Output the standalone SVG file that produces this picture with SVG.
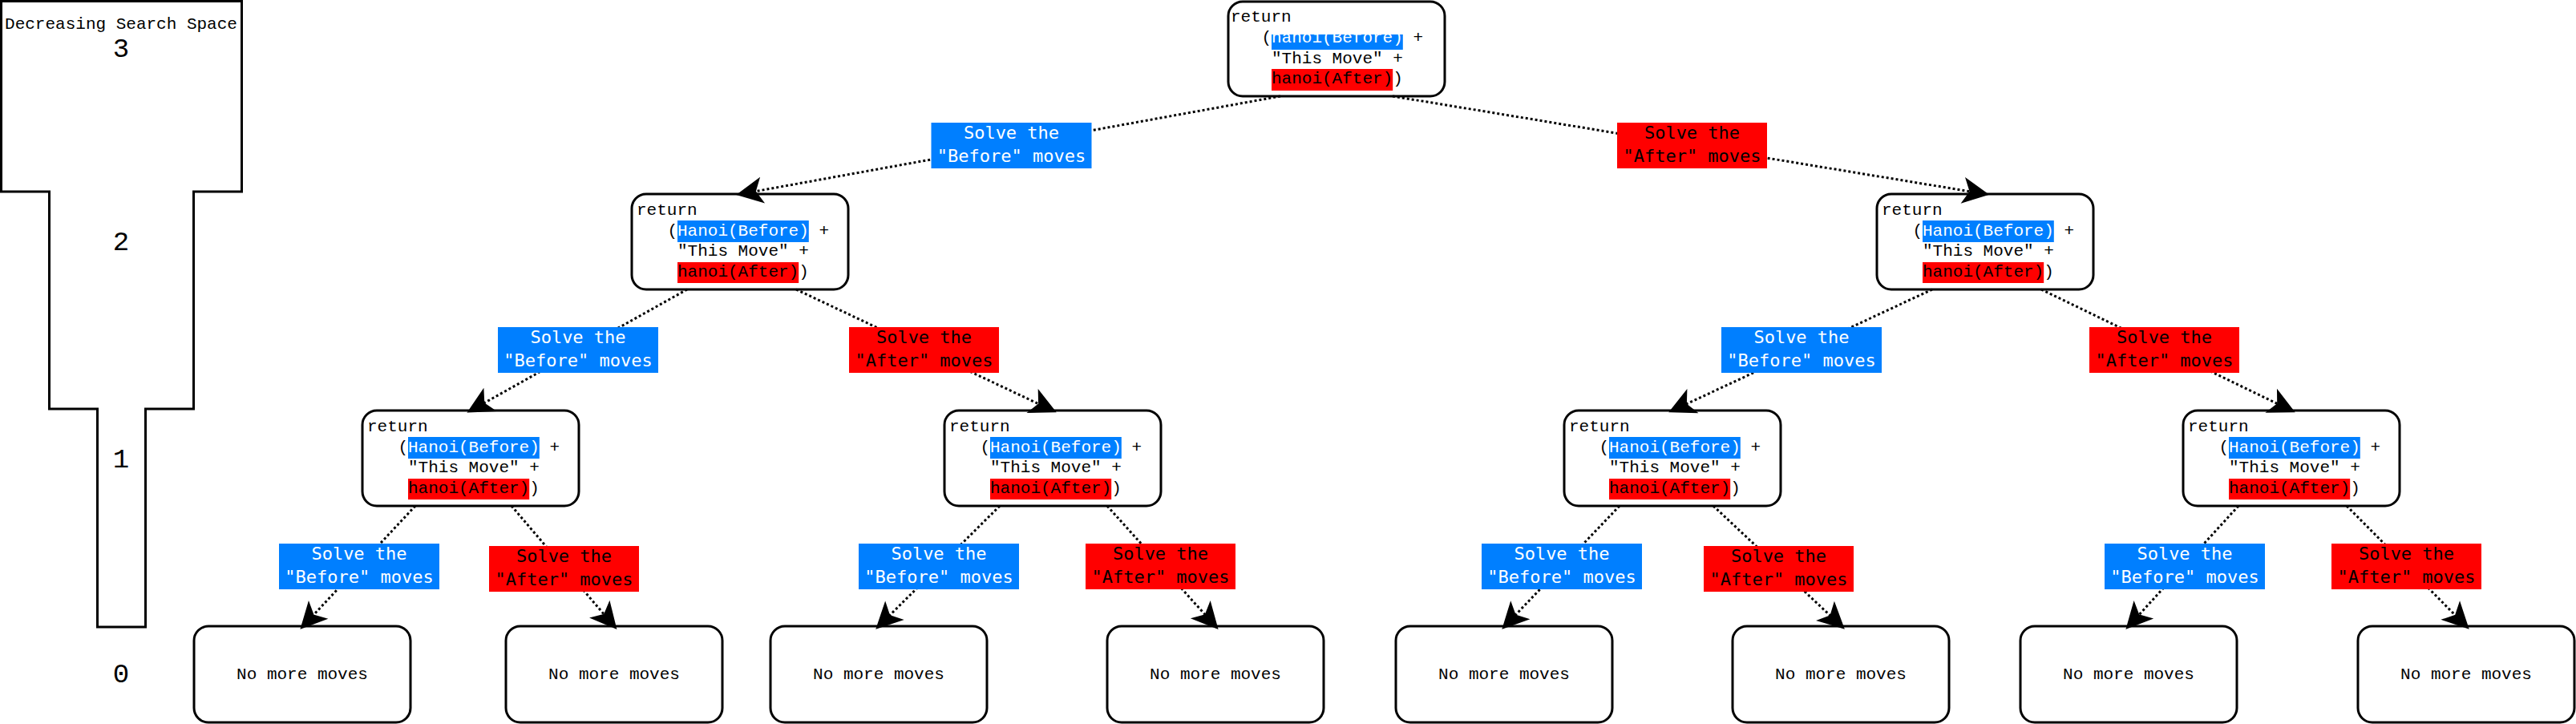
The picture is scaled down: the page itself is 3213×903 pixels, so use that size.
<svg xmlns="http://www.w3.org/2000/svg" width="3213" height="903" viewBox="0 0 3213 903">
<style>
text{font-family:"Liberation Mono","DejaVu Sans Mono",monospace;fill:#000}
.node{fill:#fff;stroke:#000;stroke-width:3}
.nt{font-size:21px}
.lt{font-size:22px;text-anchor:middle;font-family:"DejaVu Sans Mono","Liberation Mono",monospace}
.w{fill:#fff}
.blue{fill:#007FFF}
.red{fill:#FF0000}
.edge{fill:none;stroke:#000;stroke-width:3;stroke-dasharray:3 3;marker-end:url(#arr)}
.leaf{font-size:21px;text-anchor:middle}
.dig{font-size:34px;text-anchor:middle}
</style>
<defs>
<marker id="arr" markerUnits="userSpaceOnUse" markerWidth="40" markerHeight="40" viewBox="-10 -16 34 32" refX="0" refY="0" orient="auto" overflow="visible">
<path d="M18.75,0 L-6.25,-12.5 L0,0 L-6.25,12.5 Z" fill="#000" stroke="#000" stroke-width="1.5" stroke-linejoin="miter"/>
</marker>
</defs>
<rect width="3213" height="903" fill="#fff"/>

<g id="funnel">
<path d="M1.5,1.5 H301.5 V239 H241.5 V510 H181.5 V782 H121.5 V510 H61.5 V239 H1.5 Z" fill="#fff" stroke="#000" stroke-width="3"/>
<text x="151" y="36" font-size="21" text-anchor="middle">Decreasing Search Space</text>
<text class="dig" x="151" y="71">3</text>
<text class="dig" x="151" y="312">2</text>
<text class="dig" x="151" y="583">1</text>
<text class="dig" x="151" y="851">0</text>
</g>

<g id="n_top">
<rect class="node" x="1532" y="2" width="270" height="118" rx="18"/>
<rect class="blue" x="1586" y="43" width="163.8" height="19"/>
<rect class="red" x="1586" y="86" width="151.2" height="27"/>
<text class="nt" x="1535" y="27">return</text>
<text class="nt" x="1573.4" y="53">(<tspan class="w">hanoi(Before)</tspan> +</text>
<text class="nt" x="1586" y="79">"This Move" +</text>
<text class="nt" x="1586" y="104">hanoi(After))</text>
</g>

<g id="n_l1a">
<rect class="node" x="788" y="242" width="270" height="119" rx="18"/>
<rect class="blue" x="845" y="275" width="163.8" height="27"/>
<rect class="red" x="845" y="327" width="151.2" height="26"/>
<text class="nt" x="794" y="268">return</text>
<text class="nt" x="832.4" y="294">(<tspan class="w">Hanoi(Before)</tspan> +</text>
<text class="nt" x="845" y="319">"This Move" +</text>
<text class="nt" x="845" y="345">hanoi(After))</text>
</g>

<g id="n_l1b">
<rect class="node" x="2341" y="242" width="270" height="119" rx="18"/>
<rect class="blue" x="2398" y="275" width="163.8" height="27"/>
<rect class="red" x="2398" y="327" width="151.2" height="26"/>
<text class="nt" x="2347" y="268">return</text>
<text class="nt" x="2385.4" y="294">(<tspan class="w">Hanoi(Before)</tspan> +</text>
<text class="nt" x="2398" y="319">"This Move" +</text>
<text class="nt" x="2398" y="345">hanoi(After))</text>
</g>

<g id="n_l2a">
<rect class="node" x="452" y="512" width="270" height="119" rx="18"/>
<rect class="blue" x="509" y="545" width="163.8" height="27"/>
<rect class="red" x="509" y="597" width="151.2" height="26"/>
<text class="nt" x="458" y="538">return</text>
<text class="nt" x="496.4" y="564">(<tspan class="w">Hanoi(Before)</tspan> +</text>
<text class="nt" x="509" y="589">"This Move" +</text>
<text class="nt" x="509" y="615">hanoi(After))</text>
</g>

<g id="n_l2b">
<rect class="node" x="1178" y="512" width="270" height="119" rx="18"/>
<rect class="blue" x="1235" y="545" width="163.8" height="27"/>
<rect class="red" x="1235" y="597" width="151.2" height="26"/>
<text class="nt" x="1184" y="538">return</text>
<text class="nt" x="1222.4" y="564">(<tspan class="w">Hanoi(Before)</tspan> +</text>
<text class="nt" x="1235" y="589">"This Move" +</text>
<text class="nt" x="1235" y="615">hanoi(After))</text>
</g>

<g id="n_l2c">
<rect class="node" x="1951" y="512" width="270" height="119" rx="18"/>
<rect class="blue" x="2007" y="545" width="163.8" height="27"/>
<rect class="red" x="2007" y="597" width="151.2" height="26"/>
<text class="nt" x="1957" y="538">return</text>
<text class="nt" x="1994.4" y="564">(<tspan class="w">Hanoi(Before)</tspan> +</text>
<text class="nt" x="2007" y="589">"This Move" +</text>
<text class="nt" x="2007" y="615">hanoi(After))</text>
</g>

<g id="n_l2d">
<rect class="node" x="2723" y="512" width="270" height="119" rx="18"/>
<rect class="blue" x="2780" y="545" width="163.8" height="27"/>
<rect class="red" x="2780" y="597" width="151.2" height="26"/>
<text class="nt" x="2729" y="538">return</text>
<text class="nt" x="2767.4" y="564">(<tspan class="w">Hanoi(Before)</tspan> +</text>
<text class="nt" x="2780" y="589">"This Move" +</text>
<text class="nt" x="2780" y="615">hanoi(After))</text>
</g>

<g id="leaf1"><rect class="node" x="242" y="781" width="270" height="120" rx="18"/><text class="leaf" x="377" y="847">No more moves</text></g>
<g id="leaf2"><rect class="node" x="631" y="781" width="270" height="120" rx="18"/><text class="leaf" x="766" y="847">No more moves</text></g>
<g id="leaf3"><rect class="node" x="961" y="781" width="270" height="120" rx="18"/><text class="leaf" x="1096" y="847">No more moves</text></g>
<g id="leaf4"><rect class="node" x="1381" y="781" width="270" height="120" rx="18"/><text class="leaf" x="1516" y="847">No more moves</text></g>
<g id="leaf5"><rect class="node" x="1741" y="781" width="270" height="120" rx="18"/><text class="leaf" x="1876" y="847">No more moves</text></g>
<g id="leaf6"><rect class="node" x="2161" y="781" width="270" height="120" rx="18"/><text class="leaf" x="2296" y="847">No more moves</text></g>
<g id="leaf7"><rect class="node" x="2520" y="781" width="270" height="120" rx="18"/><text class="leaf" x="2655" y="847">No more moves</text></g>
<g id="leaf8"><rect class="node" x="2941" y="781" width="270" height="120" rx="18"/><text class="leaf" x="3076" y="847">No more moves</text></g>

<g id="connectors">
<line class="edge" x1="1597" y1="120" x2="941.9" y2="238.7"/>
<line class="edge" x1="1737" y1="120" x2="2457.5" y2="238.9"/>
<line class="edge" x1="857" y1="361" x2="603.4" y2="502.9"/>
<line class="edge" x1="993" y1="361" x2="1296" y2="504"/>
<line class="edge" x1="2410" y1="361" x2="2103" y2="504.1"/>
<line class="edge" x1="2546" y1="361" x2="2841.1" y2="503.8"/>
<line class="edge" x1="518" y1="631" x2="390.8" y2="767.3"/>
<line class="edge" x1="638" y1="631" x2="753.8" y2="766.7"/>
<line class="edge" x1="1247" y1="631" x2="1109.3" y2="767.8"/>
<line class="edge" x1="1381" y1="631" x2="1503.5" y2="767.1"/>
<line class="edge" x1="2020" y1="631" x2="1889.9" y2="767.4"/>
<line class="edge" x1="2137" y1="631" x2="2283.3" y2="768.2"/>
<line class="edge" x1="2792" y1="631" x2="2667.6" y2="767.2"/>
<line class="edge" x1="2927" y1="631" x2="3062.8" y2="767.7"/>

<g id="lbl1"><rect class="blue" x="1161.5" y="153" width="200" height="57"/><text class="lt w" x="1261.5" y="173">Solve the</text><text class="lt w" x="1261.5" y="202">"Before" moves</text></g>
<g id="lbl2"><rect class="red" x="2017" y="153" width="187" height="57"/><text class="lt" x="2110.5" y="173">Solve the</text><text class="lt" x="2110.5" y="202">"After" moves</text></g>
<g id="lbl3"><rect class="blue" x="621" y="408" width="200" height="57"/><text class="lt w" x="721" y="428">Solve the</text><text class="lt w" x="721" y="457">"Before" moves</text></g>
<g id="lbl4"><rect class="red" x="1059" y="408" width="187" height="57"/><text class="lt" x="1152.5" y="428">Solve the</text><text class="lt" x="1152.5" y="457">"After" moves</text></g>
<g id="lbl5"><rect class="blue" x="2147" y="408" width="200" height="57"/><text class="lt w" x="2247" y="428">Solve the</text><text class="lt w" x="2247" y="457">"Before" moves</text></g>
<g id="lbl6"><rect class="red" x="2606" y="408" width="187" height="57"/><text class="lt" x="2699.5" y="428">Solve the</text><text class="lt" x="2699.5" y="457">"After" moves</text></g>
<g id="lbl7"><rect class="blue" x="348" y="678" width="200" height="57"/><text class="lt w" x="448" y="698">Solve the</text><text class="lt w" x="448" y="727">"Before" moves</text></g>
<g id="lbl8"><rect class="red" x="610" y="681" width="187" height="57"/><text class="lt" x="703.5" y="701">Solve the</text><text class="lt" x="703.5" y="730">"After" moves</text></g>
<g id="lbl9"><rect class="blue" x="1071" y="678" width="200" height="57"/><text class="lt w" x="1171" y="698">Solve the</text><text class="lt w" x="1171" y="727">"Before" moves</text></g>
<g id="lbl10"><rect class="red" x="1354" y="678" width="187" height="57"/><text class="lt" x="1447.5" y="698">Solve the</text><text class="lt" x="1447.5" y="727">"After" moves</text></g>
<g id="lbl11"><rect class="blue" x="1848" y="678" width="200" height="57"/><text class="lt w" x="1948" y="698">Solve the</text><text class="lt w" x="1948" y="727">"Before" moves</text></g>
<g id="lbl12"><rect class="red" x="2125" y="681" width="187" height="57"/><text class="lt" x="2218.5" y="701">Solve the</text><text class="lt" x="2218.5" y="730">"After" moves</text></g>
<g id="lbl13"><rect class="blue" x="2625" y="678" width="200" height="57"/><text class="lt w" x="2725" y="698">Solve the</text><text class="lt w" x="2725" y="727">"Before" moves</text></g>
<g id="lbl14"><rect class="red" x="2908" y="678" width="187" height="57"/><text class="lt" x="3001.5" y="698">Solve the</text><text class="lt" x="3001.5" y="727">"After" moves</text></g>
</g>
</svg>
